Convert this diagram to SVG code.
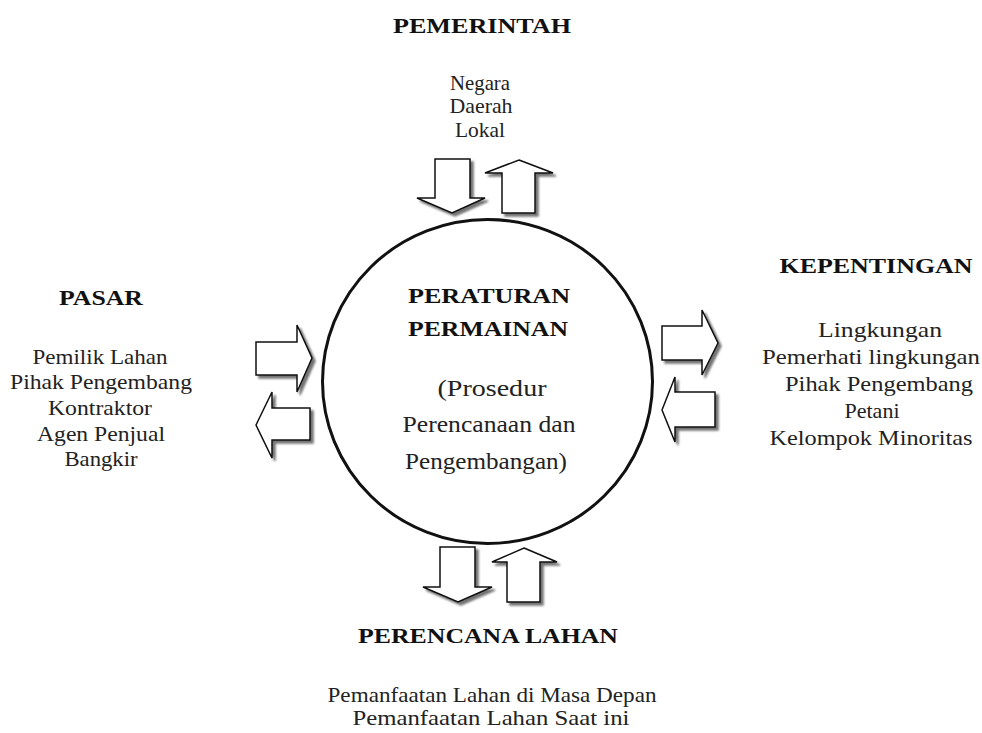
<svg xmlns="http://www.w3.org/2000/svg" width="982" height="733" viewBox="0 0 982 733">
<defs>
<filter id="sh" x="-30%" y="-30%" width="160%" height="160%">
<feDropShadow dx="3" dy="3" stdDeviation="1.3" flood-color="#000" flood-opacity="0.55"/>
</filter>
</defs>
<style>
text{font-family:'Liberation Serif','Times New Roman','DejaVu Serif',serif;fill:#222;text-anchor:middle}
.h{font-weight:bold;font-size:22px;fill:#111}
.b{font-size:21px}
.c{font-size:23px}
.ar{fill:#fff;stroke:#111;stroke-width:1.5;stroke-linejoin:miter;filter:url(#sh)}
</style>
<rect width="982" height="733" fill="#fff"/>

<g id="center" font-family="Liberation Serif, serif">
<ellipse cx="487.5" cy="381.5" rx="165" ry="162" fill="#fff" stroke="#111" stroke-width="3"/>
<text class="h" x="489" y="303" textLength="162" lengthAdjust="spacingAndGlyphs">PERATURAN</text>
<text class="h" x="488" y="336" textLength="160" lengthAdjust="spacingAndGlyphs">PERMAINAN</text>
<text class="c" x="492" y="396" textLength="109" lengthAdjust="spacingAndGlyphs">(Prosedur</text>
<text class="c" x="489" y="432" textLength="173" lengthAdjust="spacingAndGlyphs">Perencanaan dan</text>
<text class="c" x="486" y="469" textLength="162" lengthAdjust="spacingAndGlyphs">Pengembangan)</text>
</g>

<g id="pemerintah" font-family="Liberation Serif, serif">
<text class="h" x="482" y="33" textLength="178" lengthAdjust="spacingAndGlyphs">PEMERINTAH</text>
<text class="b" x="480" y="90" textLength="60" lengthAdjust="spacingAndGlyphs">Negara</text>
<text class="b" x="481" y="113" textLength="63" lengthAdjust="spacingAndGlyphs">Daerah</text>
<text class="b" x="480" y="137" textLength="50" lengthAdjust="spacingAndGlyphs">Lokal</text>
</g>

<g id="pasar" font-family="Liberation Serif, serif">
<text class="h" x="101" y="305" textLength="84" lengthAdjust="spacingAndGlyphs">PASAR</text>
<text class="b" x="100" y="364" textLength="135" lengthAdjust="spacingAndGlyphs">Pemilik Lahan</text>
<text class="b" x="101" y="389" textLength="182" lengthAdjust="spacingAndGlyphs">Pihak Pengembang</text>
<text class="b" x="100" y="415" textLength="104" lengthAdjust="spacingAndGlyphs">Kontraktor</text>
<text class="b" x="101" y="441" textLength="128" lengthAdjust="spacingAndGlyphs">Agen Penjual</text>
<text class="b" x="101" y="466" textLength="73" lengthAdjust="spacingAndGlyphs">Bangkir</text>
</g>

<g id="kepentingan" font-family="Liberation Serif, serif">
<text class="h" x="876" y="273" textLength="193" lengthAdjust="spacingAndGlyphs">KEPENTINGAN</text>
<text class="b" x="880" y="337" textLength="124" lengthAdjust="spacingAndGlyphs">Lingkungan</text>
<text class="b" x="871" y="364" textLength="218" lengthAdjust="spacingAndGlyphs">Pemerhati lingkungan</text>
<text class="b" x="879" y="391" textLength="188" lengthAdjust="spacingAndGlyphs">Pihak Pengembang</text>
<text class="b" x="872" y="418" textLength="55" lengthAdjust="spacingAndGlyphs">Petani</text>
<text class="b" x="871" y="445" textLength="203" lengthAdjust="spacingAndGlyphs">Kelompok Minoritas</text>
</g>

<g id="perencana" font-family="Liberation Serif, serif">
<text class="h" x="488" y="643" textLength="260" lengthAdjust="spacingAndGlyphs">PERENCANA LAHAN</text>
<text class="b" x="492" y="702" textLength="329" lengthAdjust="spacingAndGlyphs">Pemanfaatan Lahan di Masa Depan</text>
<text class="b" x="491" y="725" textLength="277" lengthAdjust="spacingAndGlyphs">Pemanfaatan Lahan Saat ini</text>
</g>

<g id="connectors">
<polygon class="ar" points="435,159 470,159 470,198 485,198 452,213 417,198 435,198"/>
<polygon class="ar" points="519,160 553,173 535,173 535,213 502,213 502,173 485,173"/>
<polygon class="ar" points="256,342 297,342 297,325 312,358 297,392 297,375 256,375"/>
<polygon class="ar" points="256,425 272,392 272,408 310,408 310,440 272,440 272,458"/>
<polygon class="ar" points="662,326 702,326 702,310 718,343 702,375 702,360 662,360"/>
<polygon class="ar" points="662,410 675,377 675,392 715,392 715,427 675,427 675,442"/>
<polygon class="ar" points="440,547 475,547 475,587 492,587 458,602 423,587 440,587"/>
<polygon class="ar" points="524,548 557,562 540,562 540,602 507,602 507,562 492,562"/>
</g>
</svg>
